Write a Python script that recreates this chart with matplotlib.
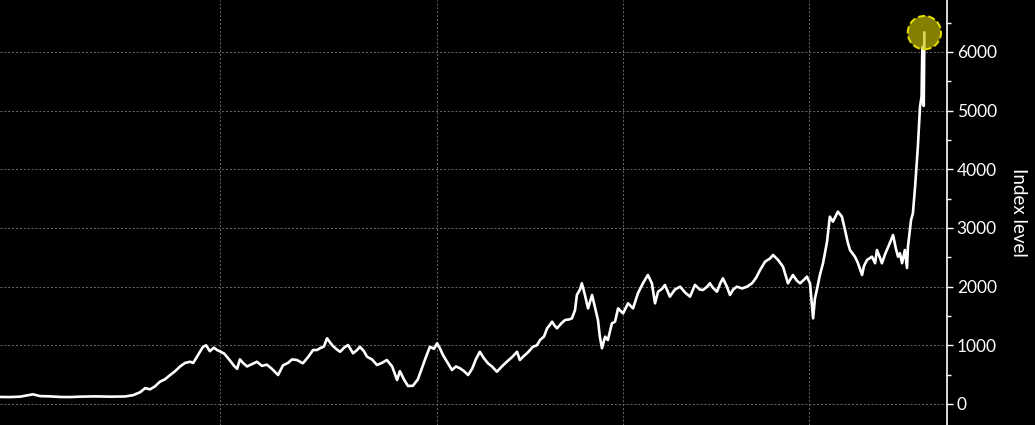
import matplotlib
matplotlib.use("Agg")
import matplotlib.pyplot as plt
from matplotlib.ticker import FixedLocator, MultipleLocator

plt.rcParams['font.family'] = ['Lato', 'DejaVu Sans']

# decimal years (x axis has no labels in the original)
years = [
    1979.89, 1980.21, 1980.54, 1980.95, 1981.18, 1981.50, 1981.83, 1982.15, 1982.47, 1982.95,
    1983.44, 1983.92, 1984.18, 1984.41, 1984.57, 1984.73, 1984.89, 1985.05, 1985.21, 1985.37,
    1985.54, 1985.70, 1985.86, 1986.02, 1986.12, 1986.24, 1986.34, 1986.44, 1986.54, 1986.66,
    1986.79, 1986.89, 1986.99, 1987.12, 1987.21, 1987.31, 1987.44, 1987.54, 1987.63, 1987.73,
    1987.86, 1988.02, 1988.18, 1988.34, 1988.50, 1988.66, 1988.86, 1989.02, 1989.18, 1989.31,
    1989.47, 1989.66, 1989.83, 1989.99, 1990.12, 1990.21, 1990.34, 1990.44, 1990.60, 1990.73,
    1990.86, 1990.99, 1991.12, 1991.28, 1991.41, 1991.50, 1991.63, 1991.73, 1991.89, 1992.05,
    1992.21, 1992.37, 1992.54, 1992.70, 1992.79, 1992.92, 1993.05, 1993.21, 1993.37, 1993.50,
    1993.63, 1993.76, 1993.89, 1993.99, 1994.08, 1994.18, 1994.31, 1994.47, 1994.60, 1994.73,
    1994.86, 1994.99, 1995.12, 1995.24, 1995.37, 1995.50, 1995.63, 1995.76, 1995.92, 1996.08,
    1996.24, 1996.41, 1996.57, 1996.66, 1996.79, 1996.89, 1996.99, 1997.08, 1997.21, 1997.31,
    1997.44, 1997.54, 1997.63, 1997.70, 1997.79, 1997.86, 1997.99, 1998.12, 1998.24, 1998.34,
    1998.44, 1998.50, 1998.60, 1998.66, 1998.76, 1998.86, 1998.99, 1999.08, 1999.18, 1999.24,
    1999.31, 1999.41, 1999.50, 1999.63, 1999.73, 1999.83, 1999.99, 2000.15, 2000.31, 2000.47,
    2000.63, 2000.79, 2000.92, 2001.02, 2001.12, 2001.24, 2001.34, 2001.50, 2001.66, 2001.83,
    2001.99, 2002.15, 2002.31, 2002.47, 2002.57, 2002.70, 2002.79, 2002.89, 2003.02, 2003.12,
    2003.21, 2003.34, 2003.44, 2003.54, 2003.66, 2003.83, 2003.99, 2004.15, 2004.28, 2004.41,
    2004.57, 2004.73, 2004.83, 2004.99, 2005.15, 2005.31, 2005.47, 2005.60, 2005.70, 2005.83,
    2005.92, 2006.02, 2006.12, 2006.18, 2006.24, 2006.34, 2006.44, 2006.57, 2006.66, 2006.76,
    2006.92, 2007.05, 2007.15, 2007.24, 2007.31, 2007.47, 2007.57, 2007.70, 2007.76, 2007.86,
    2008.02, 2008.12, 2008.18, 2008.28, 2008.34, 2008.44, 2008.50, 2008.60, 2008.70, 2008.79,
    2008.86, 2008.92, 2008.99, 2009.08, 2009.15, 2009.18, 2009.28, 2009.34, 2009.41, 2009.47,
    2009.50, 2009.57, 2009.62, 2009.64, 2009.66, 2009.69, 2009.71,
]

index_level = [
    120, 118, 125, 165, 135, 130, 120, 118, 125, 130,
    125, 128, 150, 200, 270, 250, 300, 380, 420, 490,
    560, 640, 700, 720, 700, 800, 890, 975, 1000, 900,
    960, 920, 895, 860, 805, 740, 650, 600, 760, 700,
    640, 680, 720, 650, 670, 600, 494, 660, 700, 760,
    750, 694, 800, 920, 920, 950, 980, 1120, 1005, 940,
    890, 960, 1005, 864, 920, 975, 900, 806, 760, 665,
    700, 750, 640, 409, 560, 420, 307, 310, 420, 608,
    800, 975, 940, 1035, 950, 835, 720, 580, 640, 608,
    560, 494, 600, 760, 890, 780, 694, 640, 550, 640,
    720, 800, 890, 750, 820, 864, 920, 975, 1000, 1090,
    1150, 1290, 1350, 1403, 1330, 1290, 1370, 1432, 1440, 1460,
    1600, 1858, 1950, 2057, 1858, 1630, 1858, 1658, 1432, 1150,
    950, 1147, 1090, 1375, 1403, 1630, 1545, 1716, 1630, 1887,
    2057, 2199, 2057, 1716, 1915, 1960, 2028, 1830, 1950, 2000,
    1900, 1830, 2030, 1950, 1943, 2000, 2057, 1980, 1915, 2050,
    2142, 2000, 1858, 1950, 2000, 1970, 2000, 2057, 2150, 2284,
    2426, 2480, 2540, 2455, 2340, 2057, 2199, 2100, 2057, 2120,
    2170, 2057, 1460, 1800, 1943, 2200, 2398, 2766, 3193, 3108,
    3278, 3193, 2966, 2750, 2625, 2511, 2398, 2199, 2350, 2455,
    2511, 2400, 2625, 2490, 2398, 2550, 2625, 2750, 2880, 2650,
    2511, 2570, 2400, 2625, 2318, 2681, 3136, 3250, 3700, 4150,
    4385, 5070, 5240, 5950, 6090, 5080, 6330,
]

grid_years = [1987, 1994, 2000, 2006]
y_ticks = [0, 1000, 2000, 3000, 4000, 5000, 6000]

fig = plt.figure(figsize=(10.35, 4.25), dpi=100, facecolor='black')
ax = fig.add_axes([0, 0, 947 / 1035, 1])
ax.set_facecolor('black')

ax.plot(years, index_level, color='white', lw=1.9, zorder=3)
# highlight on the latest value
ax.scatter([years[-1]], [index_level[-1]], s=24 ** 2, facecolor=(0.8, 0.77, 0.0, 0.65),
           edgecolor='#e6e000', linewidths=1.4, linestyle='--', zorder=4)

ax.set_xlim(1979.89, 2010.44)
ax.set_ylim(-358, 6886)

ax.xaxis.set_major_locator(FixedLocator(grid_years))
ax.tick_params(axis='x', which='both', length=0, labelbottom=False)
ax.yaxis.set_major_locator(FixedLocator(y_ticks))
ax.yaxis.set_minor_locator(MultipleLocator(500))
ax.yaxis.tick_right()
ax.yaxis.set_label_position('right')
ax.tick_params(axis='y', which='major', direction='out', length=4, width=1,
               colors='white', labelsize=12.5, pad=3)
ax.tick_params(axis='y', which='minor', direction='out', length=3, width=1, colors='white')
ax.set_ylabel('Index level', color='white', fontsize=13.5, rotation=270, labelpad=22)

ax.grid(True, which='major', color='#6a6a6a', linestyle=(0, (2, 2)), linewidth=0.7)

for side in ['top', 'left', 'bottom']:
    ax.spines[side].set_visible(False)
ax.spines['right'].set_color('white')
ax.spines['right'].set_linewidth(1.2)

fig.savefig('out.png', dpi=100, facecolor='black')
